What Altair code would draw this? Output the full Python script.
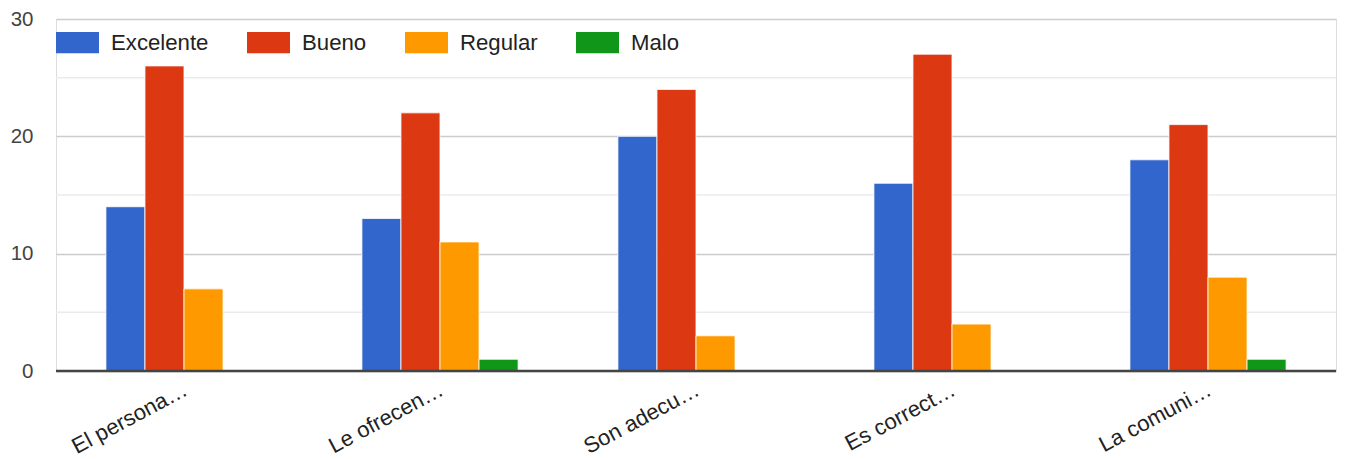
import altair as alt
import pandas as pd

categories = ["El persona…", "Le ofrecen…", "Son adecu…", "Es correct…", "La comuni…"]
series = ["Excelente", "Bueno", "Regular", "Malo"]
excelente = [14, 13, 20, 16, 18]
bueno = [26, 22, 24, 27, 21]
regular = [7, 11, 3, 4, 8]
malo = [0, 1, 0, 0, 1]
colors = ["#3366cc", "#dc3912", "#ff9900", "#109618"]
y_ticks = [0, 10, 20, 30]
minor_ticks = [5, 15, 25]

rows = []
for name, vals in zip(series, [excelente, bueno, regular, malo]):
    for c, v in zip(categories, vals):
        rows.append({"cat": c, "series": name, "value": v})
df = pd.DataFrame(rows)

FONT = "Liberation Sans"

minor = alt.Chart(pd.DataFrame({"v": minor_ticks})).mark_rule(
    color="#ebebeb", strokeWidth=1.5
).encode(y=alt.Y("v:Q"))

bars = alt.Chart(df).mark_bar(stroke="white", strokeWidth=1, strokeOpacity=0.8).encode(
    x=alt.X(
        "cat:N",
        sort=categories,
        scale=alt.Scale(paddingInner=0.39, paddingOuter=0.195),
        axis=alt.Axis(
            title=None, labelAngle=-28, labelFontSize=22, labelColor="#222",
            labelFont=FONT, domain=False, ticks=False, labelPadding=8, labelOffset=-3,
            labelLimit=0, labelAlign="right", labelBaseline="top",
        ),
    ),
    xOffset=alt.XOffset("series:N", sort=series, scale=alt.Scale(paddingInner=0, paddingOuter=0)),
    y=alt.Y(
        "value:Q",
        scale=alt.Scale(domain=[0, 30], nice=False),
        axis=alt.Axis(
            title=None, values=y_ticks, grid=True, gridColor="#cccccc", gridWidth=1.5,
            domain=False, ticks=False, labelPadding=23, labelFontSize=20.5,
            labelColor="#444", labelFont=FONT,
        ),
    ),
    color=alt.Color(
        "series:N",
        sort=series,
        scale=alt.Scale(domain=series, range=colors),
        legend=alt.Legend(
            title=None, orient="none", legendX=0, legendY=2, direction="horizontal",
            symbolType="M-1,-0.49H1V0.49H-1Z", symbolSize=1849, symbolStrokeWidth=0,
            symbolOpacity=1, labelFontSize=22.2, labelFont=FONT, labelColor="#222",
            labelOffset=12, columnPadding=38,
        ),
    ),
)

base = alt.Chart(pd.DataFrame({"v": [0]})).mark_rule(color="#444444", strokeWidth=2.5).encode(
    y=alt.Y("v:Q")
)

chart = alt.layer(minor, bars, base).properties(
    width=1280, height=352,
    autosize=alt.AutoSizeParams(type="none"),
    padding={"left": 56, "top": 19, "right": 10, "bottom": 88},
).configure_view(stroke=None).configure(background="white")

chart.save("out.html", embed_options={"renderer": "svg", "actions": False})
